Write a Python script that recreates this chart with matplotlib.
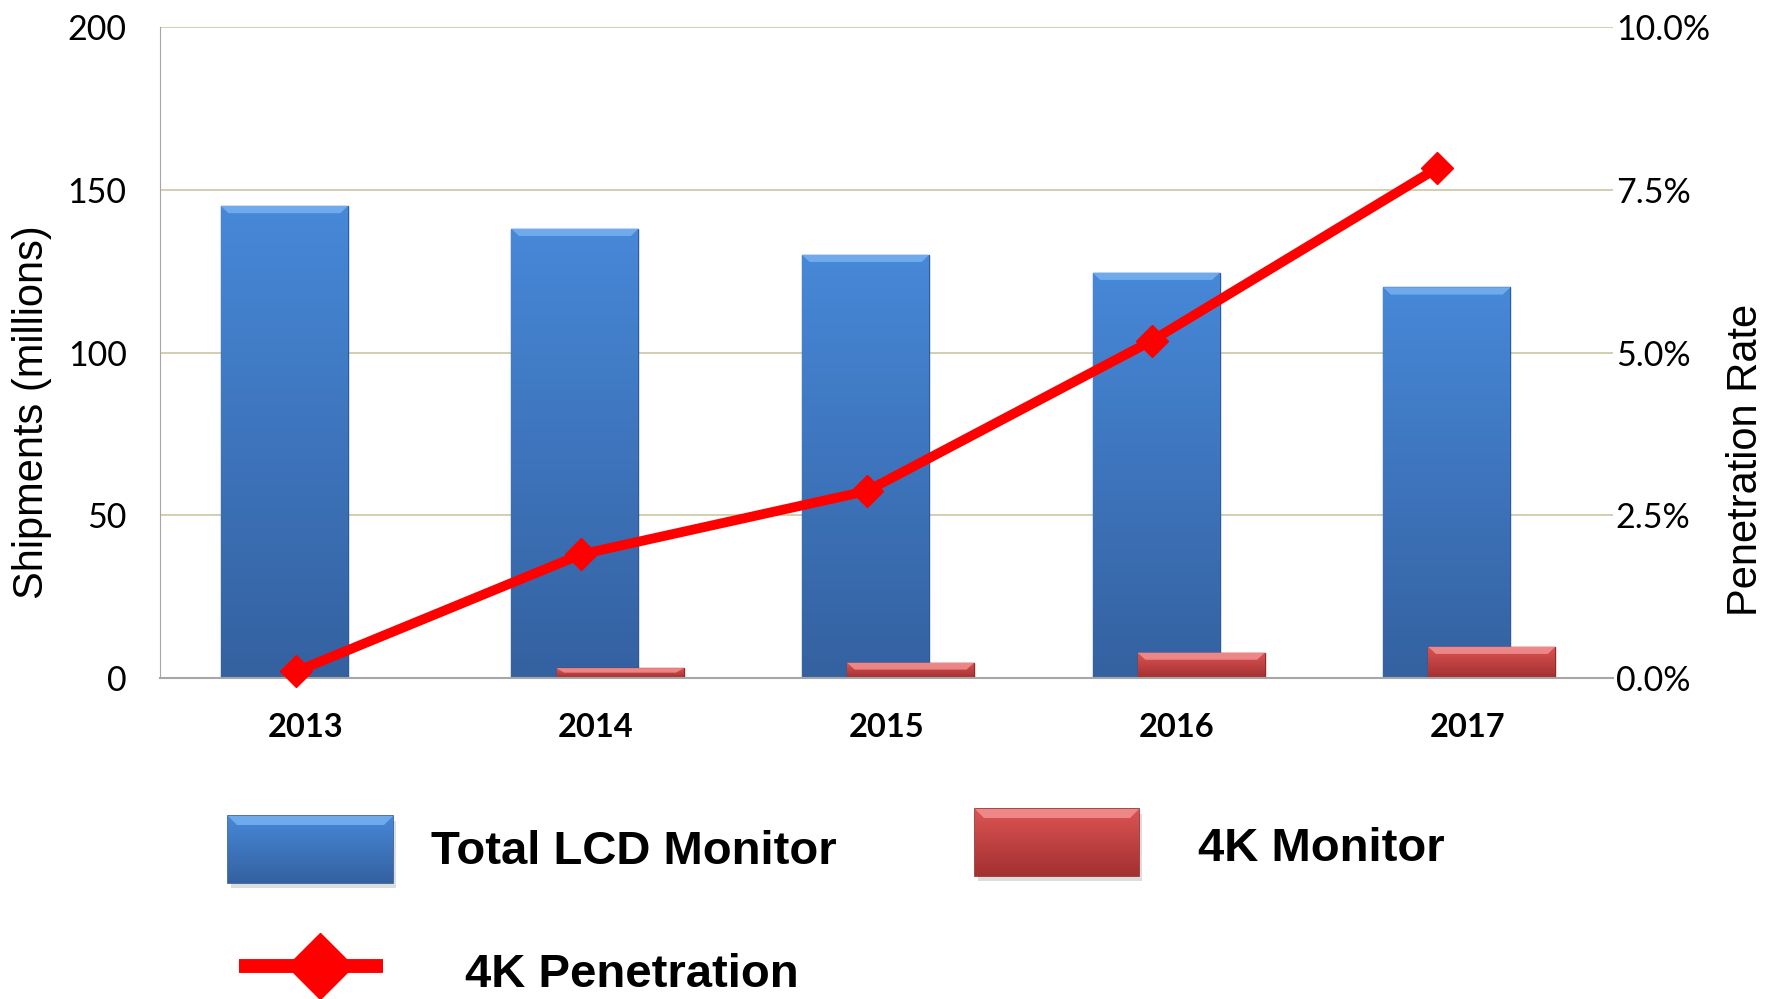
import numpy as np
import matplotlib.pyplot as plt
from matplotlib.patches import Rectangle, Polygon
from matplotlib.lines import Line2D
from matplotlib.colors import LinearSegmentedColormap
from matplotlib.ticker import FuncFormatter

# datos
years = ['2013', '2014', '2015', '2016', '2017']
total_lcd = [145, 138, 130, 124.5, 120]        # millones
monitor_4k = [0, 3, 4.7, 7.8, 9.6]             # millones
penetration = [0.1, 1.9, 2.87, 5.18, 7.83]     # %

left_ticks = [0, 50, 100, 150, 200]
right_ticks = [0, 2.5, 5.0, 7.5, 10.0]

blue_top, blue_bot, blue_bevel, blue_edge = '#4788d8', '#3461a0', '#7ab4f2', '#2f5a94'
red_top, red_bot, red_bevel, red_edge = '#dc5454', '#a33030', '#f59595', '#8e2a2a'

W, H = 1777, 999
fig = plt.figure(figsize=(W / 100, H / 100), dpi=100)
fig.patch.set_facecolor('white')

# eje principal (barras)
ax = fig.add_axes([160 / W, 1 - 678 / H, (1613 - 160) / W, (678 - 27) / H])
x = np.arange(len(years))


def shade(axis, bars, top, bot, bevel, bev_h, bev_dx):
    cmap = LinearSegmentedColormap.from_list('g', [bot, top])
    grad = np.linspace(0, 1, 256).reshape(-1, 1)
    for b in bars:
        x0, y0, w, h = b.get_x(), b.get_y(), b.get_width(), b.get_height()
        if h <= 0:
            continue
        im = axis.imshow(grad, cmap=cmap, extent=[x0, x0 + w, y0, y0 + h],
                         origin='lower', aspect='auto', zorder=b.get_zorder())
        im.set_clip_path(b)
        bh = min(bev_h, h * 0.45)
        y1 = y0 + h
        axis.add_patch(Polygon([(x0, y1), (x0 + w, y1), (x0 + w - bev_dx, y1 - bh),
                                (x0 + bev_dx, y1 - bh)], closed=True,
                               facecolor=bevel, edgecolor='none', alpha=0.8,
                               zorder=b.get_zorder() + 0.1))


b1 = ax.bar(x - 0.072, total_lcd, width=0.437, color=blue_top, edgecolor=blue_edge,
            linewidth=1, zorder=2)
b2 = ax.bar(x + 0.083, monitor_4k, width=0.437, color=red_top, edgecolor=red_edge,
            linewidth=1, zorder=3)
shade(ax, b1, blue_top, blue_bot, blue_bevel, 2.2, 0.026)
shade(ax, b2, red_top, red_bot, red_bevel, 2.2, 0.026)

ax.set_xlim(-0.5, 4.5)
ax.set_ylim(0, 200)
ax.set_yticks(left_ticks)
ax.set_xticks(x)
ax.set_xticklabels(years, fontfamily='Lato', fontweight='bold', fontsize=23.5)
ax.tick_params(axis='x', length=0, pad=25)
ax.tick_params(axis='y', length=0, pad=24, labelsize=24.5)
for t in ax.get_yticklabels():
    t.set_fontfamily('Lato')
ax.yaxis.grid(True, color='#cfcaa9', linewidth=1.3)
ax.set_axisbelow(True)
ax.spines['top'].set_visible(False)
ax.spines['right'].set_visible(False)
ax.spines['left'].set_color('#a6a6a6')
ax.spines['bottom'].set_color('#a6a6a6')
ax.spines['bottom'].set_linewidth(1.5)
ax.spines['bottom'].set_zorder(4)

# eje secundario (linea de penetracion)
ax2 = fig.add_axes(ax.get_position(), frameon=False)
ax2.set_zorder(ax.get_zorder() + 1)
ax2.patch.set_visible(False)
ax2.plot(np.arange(len(years)), penetration, color='#ff0000', linewidth=7,
         marker='D', markersize=16, markeredgewidth=1, clip_on=False,
         solid_joinstyle='round')
ax2.set_xlim(-0.477, 4.617)
ax2.set_ylim(0, 10)
ax2.xaxis.set_visible(False)
ax2.yaxis.tick_right()
ax2.set_yticks(right_ticks)
ax2.yaxis.set_major_formatter(FuncFormatter(lambda v, p: '%.1f%%' % v))
ax2.tick_params(axis='y', length=0, pad=2, labelsize=24.5)
for t in ax2.get_yticklabels():
    t.set_fontfamily('Lato')
for s in ax2.spines.values():
    s.set_visible(False)

fig.text(32 / W, 1 - 412 / H, 'Shipments (millions)', rotation=90, fontsize=30,
         fontfamily='Liberation Sans', ha='center', va='center')
fig.text(1746 / W, 1 - 460 / H, 'Penetration Rate', rotation=90, fontsize=30,
         fontfamily='Liberation Sans', ha='center', va='center')

# leyenda dibujada a mano
lg = fig.add_axes([0, 0, 1, 1])
lg.set_xlim(0, W)
lg.set_ylim(H, 0)
lg.axis('off')
lg.patch.set_visible(False)


def legend_box(x0, y0, w, h, top, bot, bevel, edge):
    lg.add_patch(Rectangle((x0 + 3, y0 + 5), w, h, facecolor='#bdbdbd', alpha=0.5,
                           edgecolor='none', zorder=1))
    r = Rectangle((x0, y0), w, h, facecolor=top, edgecolor=edge, linewidth=1.2, zorder=2)
    lg.add_patch(r)
    cmap = LinearSegmentedColormap.from_list('g', [top, bot])
    grad = np.linspace(0, 1, 256).reshape(-1, 1)
    im = lg.imshow(grad, cmap=cmap, extent=[x0, x0 + w, y0, y0 + h], origin='lower',
                   aspect='auto', zorder=2)
    im.set_clip_path(r)
    lg.add_patch(Polygon([(x0, y0), (x0 + w, y0), (x0 + w - 9, y0 + 9), (x0 + 9, y0 + 9)],
                         closed=True, facecolor=bevel, edgecolor='none', alpha=0.8,
                         zorder=3))


legend_box(228, 816, 165, 67, blue_top, blue_bot, blue_bevel, blue_edge)
legend_box(975, 809, 164, 67, red_top, red_bot, red_bevel, red_edge)
lg.add_line(Line2D([239, 383], [966, 966], color='#ff0000', linewidth=10,
                   solid_capstyle='butt'))
lg.add_line(Line2D([320], [966], color='#ff0000', marker='D', markersize=34,
                   linestyle='none'))
lg.set_xlim(0, W)
lg.set_ylim(H, 0)

legend_font = dict(fontsize=34, fontweight='bold', fontfamily='Liberation Sans',
                   ha='left', va='center')
fig.text(431 / W, 1 - 852 / H, 'Total LCD Monitor', **legend_font)
fig.text(1198 / W, 1 - 849 / H, '4K Monitor', **legend_font)
fig.text(465 / W, 1 - 975 / H, '4K Penetration', **legend_font)

plt.savefig('out.png', dpi=100)
